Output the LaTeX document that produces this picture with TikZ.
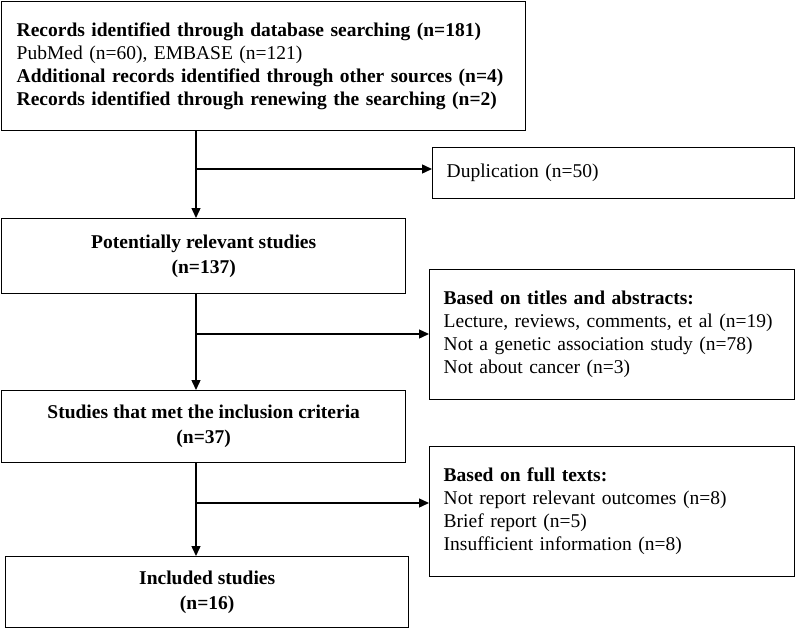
\documentclass[tikz,border=0pt]{standalone}
\usepackage{fontspec}
\setmainfont{Liberation Serif}
\usetikzlibrary{arrows.meta}
\begin{document}
\begin{tikzpicture}[x=1pt,y=-1pt,
  box/.style={draw=black,line width=1.4pt,rectangle,anchor=north west,
    font=\fontsize{19.5}{23}\selectfont,inner ysep=0pt},
  lbox/.style={box,align=left,inner xsep=14pt},
  cbox/.style={box,align=center,font=\fontsize{19.5}{25}\selectfont\bfseries},
  arr/.style={line width=1.4pt,-{Triangle[length=10pt,width=9pt]}}]
\useasboundingbox (0,0) rectangle (795,629);
\node[lbox,inner xsep=15pt,minimum width=524,minimum height=129,text width=494] (b1) at (1,1)
 {\mbox{\textbf{Records identified through database searching (n=181)}}\\
  \mbox{PubMed (n=60), EMBASE (n=121)}\\
  \mbox{\textbf{Additional records identified through other sources (n=4)}}\\
  \mbox{\textbf{Records identified through renewing the searching (n=2)}}};
\node[lbox,minimum width=362,minimum height=51,text width=334] (dup) at (432,147)
 {Duplication (n=50)};
\node[cbox,minimum width=404,minimum height=75] (b2) at (1,218)
 {Potentially relevant studies\\(n=137)};
\node[lbox,minimum width=365,minimum height=130,text width=337] (b3) at (429,269)
 {\mbox{\textbf{Based on titles and abstracts:}}\\
  \mbox{Lecture, reviews, comments, et al (n=19)}\\
  \mbox{Not a genetic association study (n=78)}\\
  \mbox{Not about cancer (n=3)}};
\node[cbox,minimum width=404,minimum height=72] (b4) at (1,390)
 {Studies that met the inclusion criteria\\(n=37)};
\node[lbox,minimum width=365,minimum height=130,text width=337] (b6) at (429,446)
 {\mbox{\textbf{Based on full texts:}}\\
  \mbox{Not report relevant outcomes (n=8)}\\
  \mbox{Brief report (n=5)}\\
  \mbox{Insufficient information (n=8)}};
\node[cbox,minimum width=403,minimum height=71] (b5) at (5,556)
 {Included studies\\(n=16)};
\coordinate (s) at (196,0);
\coordinate (j1) at (196,169);
\coordinate (j2) at (196,334);
\coordinate (j3) at (196,503);
\draw[arr] (b1.south -| s) -- (b2.north -| s);
\draw[arr] (j1) -- (j1 -| dup.west);
\draw[arr] (b2.south -| s) -- (b4.north -| s);
\draw[arr] (j2) -- (j2 -| b3.west);
\draw[arr] (b4.south -| s) -- (b5.north -| s);
\draw[arr] (j3) -- (j3 -| b6.west);
\end{tikzpicture}
\end{document}
